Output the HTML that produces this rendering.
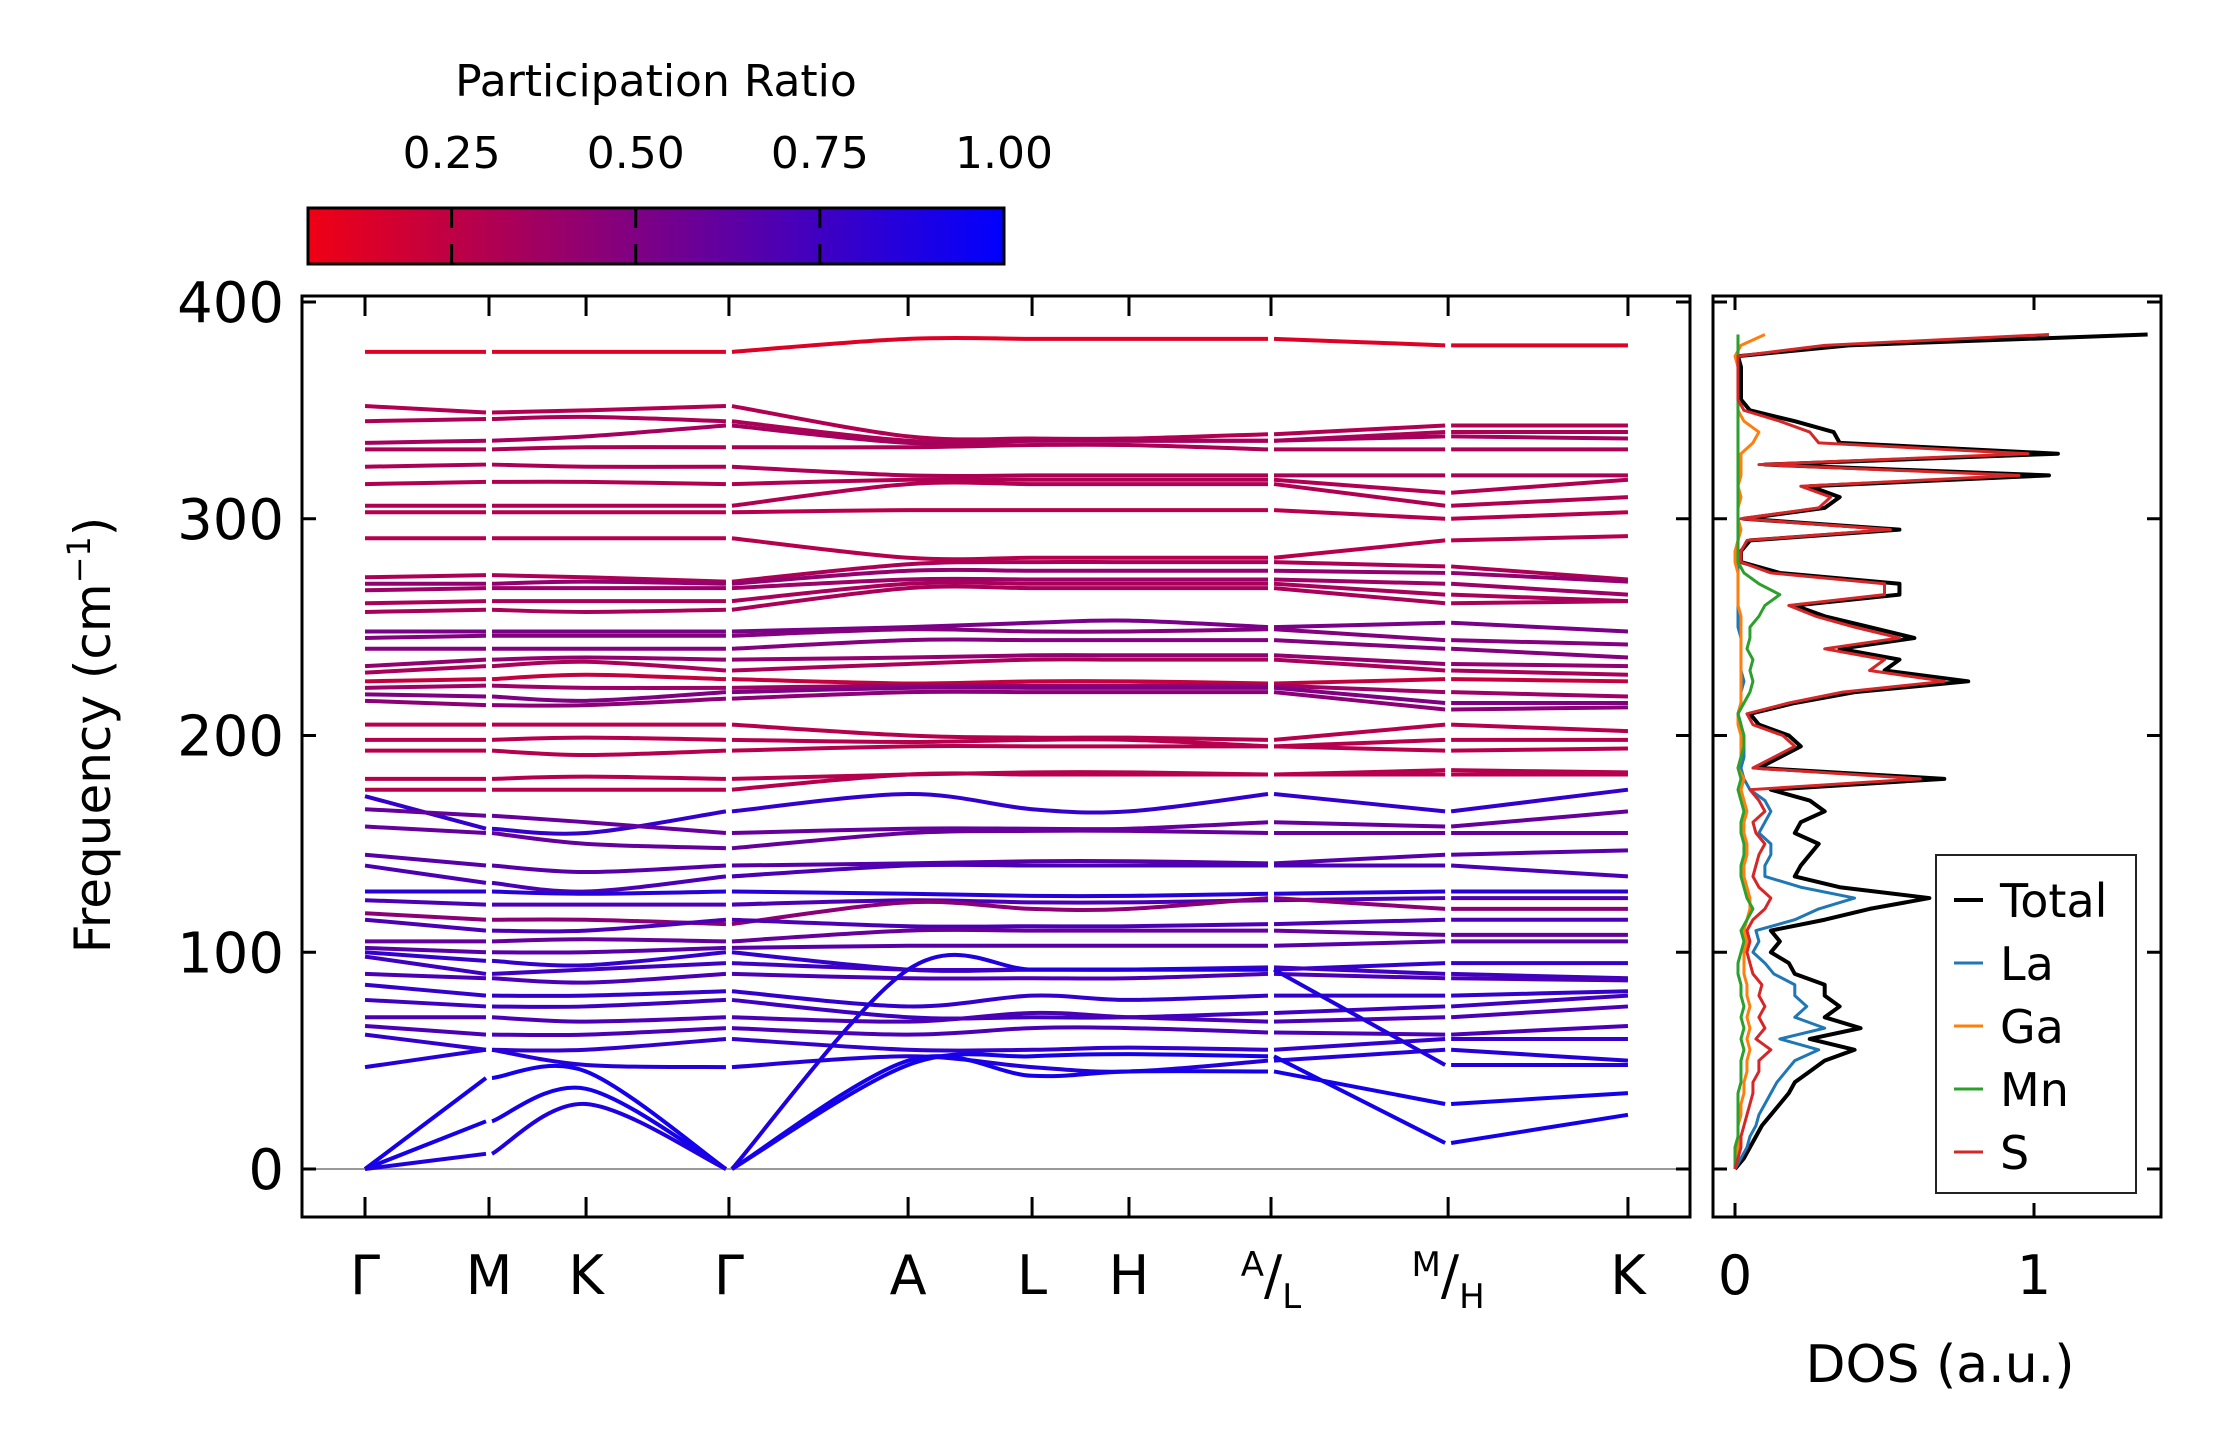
<!DOCTYPE html>
<html><head><meta charset="utf-8"><style>
html,body{margin:0;padding:0;background:#fff;}
svg{display:block;font-family:"DejaVu Sans","Liberation Sans",sans-serif;}
</style></head><body>
<svg id="fig" width="2222" height="1455" viewBox="0 0 2222 1455" xmlns="http://www.w3.org/2000/svg">
<defs><linearGradient id="cmap" x1="0" x2="1" y1="0" y2="0"><stop offset="0" stop-color="rgb(240,0,20)"/><stop offset="1" stop-color="rgb(0,0,255)"/></linearGradient></defs>
<g>
<text x="656" y="96" font-size="44" text-anchor="middle">Participation Ratio</text>
<rect x="308" y="208" width="696" height="56" fill="url(#cmap)" stroke="#000" stroke-width="3"/>
<g id="cbticks"></g>
</g>
<g id="bands"></g>
<g id="dos"></g>
</svg>
<script>
const NS="http://www.w3.org/2000/svg";
const kLabels=["Γ","M","K","Γ","A","L","H","A/L","M/H","K"];
const kPath=[0,0.728,1.298,2.137,3.189,3.917,4.486,5.32,6.36,7.416];
const yTicks=[0,100,200,300,400];
const cbTicks=[0.25,0.5,0.75,1.0];
const bands=[
[377,377,377,377,383,383,383,383,380,380],
[352,349,350,352,338,337,337,339,343,343],
[345,346,347,345,336,336,336,336,340,340],
[335,336,338,343,335,336,336,336,338,337],
[332,332,333,333,333,334,334,332,332,332],
[324,325,324,324,320,320,320,320,320,320],
[316,317,317,316,318,318,318,318,312,318],
[306,306,306,306,316,316,316,316,306,310],
[303,303,303,303,304,304,304,304,300,303],
[291,291,291,291,282,282,282,282,290,292],
[273,274,273,271,279,280,280,280,278,272],
[270,270,271,270,276,276,276,276,275,271],
[267,268,268,268,272,272,272,272,270,265],
[261,262,262,262,270,270,270,270,265,262],
[257,258,257,258,268,268,268,268,261,262],
[248,248,248,248,250,252,253,250,252,248],
[245,246,246,246,249,248,248,249,244,242],
[240,240,240,240,244,244,244,244,240,236],
[232,235,236,235,236,237,237,237,233,232],
[229,232,234,230,233,235,235,235,230,228],
[225,226,228,226,224,225,225,224,226,225],
[222,223,222,222,223,223,223,223,220,218],
[219,218,216,220,222,222,222,222,215,215],
[216,214,214,217,220,220,220,220,212,213],
[205,205,205,205,200,199,199,198,205,202],
[198,198,199,198,197,198,198,195,198,198],
[193,193,191,193,195,195,195,195,193,194],
[180,180,181,180,182,183,183,182,184,183],
[175,175,175,175,182,182,182,182,182,182],
[172,157,155,165,173,166,165,173,165,175],
[166,163,160,155,157,157,157,160,158,165],
[158,155,150,148,155,156,156,155,155,155],
[145,140,137,140,141,142,142,141,145,147],
[140,132,128,135,140,140,140,140,140,135],
[128,128,127,128,127,126,126,127,128,128],
[124,122,122,122,124,123,123,124,125,125],
[118,115,115,113,123,120,120,125,120,120],
[115,110,110,115,112,112,112,113,115,115],
[105,105,106,105,110,110,110,110,108,108],
[102,100,100,102,103,103,103,103,105,105],
[100,96,94,100,92,92,92,92,95,95],
[98,90,92,95,92,92,92,93,90,88],
[90,88,86,90,88,88,88,90,88,87],
[85,80,80,82,75,80,78,80,80,82],
[78,75,75,78,70,70,70,72,75,80],
[70,70,68,70,68,72,70,68,70,75],
[66,62,62,65,62,65,65,63,62,66],
[62,55,55,60,55,55,56,55,60,60],
[47,55,48,47,52,47,45,50,55,50],
[0,42,45,0,50,43,45,45,30,35],
[0,22,37,0,48,52,53,52,12,25],
[0,7,30,0,92,92,92,92,48,48]
];
const bandPR=[0.12,0.3,0.32,0.35,0.32,0.32,0.3,0.3,0.28,0.28,0.32,0.42,0.38,0.33,0.33,0.52,0.48,0.48,0.42,0.33,0.22,0.38,0.5,0.45,0.28,0.28,0.28,0.28,0.28,0.8,0.6,0.6,0.65,0.7,0.85,0.7,0.45,0.7,0.6,0.65,0.8,0.75,0.7,0.8,0.75,0.7,0.7,0.8,0.85,0.92,0.92,0.88];
const segments=[[0,1],[1,2,3],[3,4,5,6,7],[7,8],[8,9]];
const dosFreqStep=5;
const dosTotal=[0,.03,.05,.07,.09,.12,.15,.18,.2,.25,.3,.4,.25,.42,.3,.35,.3,.3,.2,.18,.12,.15,.12,.3,.45,.65,.35,.2,.22,.25,.28,.2,.22,.3,.25,.12,.7,.08,.15,.22,.18,.08,.05,.2,.4,.78,.5,.55,.35,.6,.45,.3,.2,.55,.55,.15,.02,.02,.05,.55,.03,.3,.35,.25,1.05,.1,1.08,.35,.33,.2,.05,.02,.02,.02,.02,.01,.38,1.38];
const dosLa=[0,.02,.04,.05,.07,.08,.1,.12,.14,.17,.2,.28,.15,.3,.2,.24,.2,.2,.13,.1,.06,.08,.07,.2,.28,.4,.22,.1,.1,.12,.12,.08,.1,.12,.1,.05,.03,.02,.03,.03,.02,.02,.01,.02,.02,.03,.02,.02,.02,.02,.01,.01,.01,.01,.01,.01,.01,.01,.01,.01,.01,.01,.01,.01,.01,.01,.01,.01,.01,.01,.01,.01,.01,.01,.01,.01,.01,.01];
const dosGa=[0,0,.01,.01,.01,.02,.02,.03,.03,.04,.04,.05,.04,.05,.04,.05,.04,.04,.03,.03,.03,.04,.03,.04,.05,.05,.04,.03,.03,.04,.04,.03,.03,.04,.03,.02,.03,.01,.02,.02,.02,.01,.01,.02,.02,.02,.02,.02,.02,.02,.02,.02,.01,.01,.01,.01,0,0,.01,.02,.01,.01,.02,.01,.02,.02,.02,.06,.08,.03,.01,.01,.01,.01,.01,0,.02,.1];
const dosMn=[0,0,0,.01,.01,.01,.01,.01,.02,.02,.02,.03,.02,.03,.02,.03,.02,.02,.01,.01,.02,.03,.02,.04,.06,.04,.03,.02,.02,.03,.03,.02,.02,.03,.02,.01,.02,.01,.02,.03,.03,.02,.01,.03,.05,.06,.05,.06,.04,.05,.05,.08,.1,.15,.08,.03,.01,.01,.01,.01,.01,.01,.01,.01,.01,.01,.01,.01,.01,.01,.01,.01,.01,.01,.01,.01,.01,.01];
const dosS=[0,.01,.02,.02,.03,.04,.05,.06,.06,.08,.08,.12,.07,.1,.08,.1,.08,.09,.06,.05,.04,.05,.04,.06,.1,.12,.08,.06,.07,.08,.1,.07,.06,.1,.08,.05,.62,.06,.13,.2,.16,.06,.04,.18,.36,.7,.45,.5,.3,.55,.4,.27,.18,.5,.5,.12,.02,.02,.04,.52,.02,.28,.32,.22,.95,.08,.98,.28,.25,.15,.03,.01,.01,.01,.01,.01,.3,1.05];
const dosNames=["Total","La","Ga","Mn","S"];
const dosColors=["#000000","#1f77b4","#ff7f0e","#2ca02c","#d62728"];
const dosTicks=[0,1];

const AX={l:302,r:1690,t:296,b:1217};
const DX={l:1713,r:2161};
const y=f=>1169-f*2.1675;
const x=k=>AX.l+(k+0.37)*170.3;
const xd=v=>1735+v*299;
const prColor=p=>{const t=Math.max(0,Math.min(1,(p-0.05)/0.95));return `rgb(${Math.round(240*(1-t))},0,${Math.round(20+235*t)})`;};

function el(tag,attrs,parent){const e=document.createElementNS(NS,tag);for(const a in attrs)e.setAttribute(a,attrs[a]);parent.appendChild(e);return e;}

const cb=document.getElementById('cbticks');
cbTicks.forEach(v=>{
  const px=308+(v-0.055)/0.945*696;
  const l1=el('line',{x1:px,x2:px,y1:208,y2:228,stroke:'#000','stroke-width':3},cb);
  
  
  const l2=el('line',{x1:px,x2:px,y1:244,y2:264,stroke:'#000','stroke-width':3},cb);
  
  
  const t=el('text',{x:px,y:168,'font-size':44,'text-anchor':'middle'},cb);
  t.textContent=v.toFixed(2);
  
  
});

const g=document.getElementById('bands');
const zl=el('line',{x1:AX.l,x2:AX.r,y1:y(0),y2:y(0),stroke:'#999','stroke-width':2},g);


function crPath(pts){
  let d=`M${pts[0][0]},${pts[0][1]}`;
  for(let i=0;i<pts.length-1;i++){
    const p0=pts[i-1]||pts[i],p1=pts[i],p2=pts[i+1],p3=pts[i+2]||pts[i+1];
    const c1=[p1[0]+(p2[0]-p0[0])/6,p1[1]+(p2[1]-p0[1])/6];
    const c2=[p2[0]-(p3[0]-p1[0])/6,p2[1]-(p3[1]-p1[1])/6];
    d+=` C${c1[0]},${c1[1]} ${c2[0]},${c2[1]} ${p2[0]},${p2[1]}`;
  }
  return d;
}
bands.forEach((b,bi)=>{
  segments.forEach(seg=>{
    const pts=seg.map((k,j)=>{let px=x(kPath[k]);if(j===0&&k!==0)px+=3;if(j===seg.length-1&&k!==9)px-=3;return [px,y(b[k])];});
    const p=el('path',{d:crPath(pts),fill:'none',stroke:prColor(bandPR[bi]),'stroke-width':4},g);
    
    
  });
});
const ax=el('rect',{x:AX.l,y:AX.t,width:AX.r-AX.l,height:AX.b-AX.t,fill:'none',stroke:'#000','stroke-width':3},g);


yTicks.forEach(v=>{
  [[AX.l,AX.l+14],[AX.r,AX.r-14]].forEach(([a,b2])=>{
    const l=el('line',{x1:a,x2:b2,y1:y(v),y2:y(v),stroke:'#000','stroke-width':3},g);
    
    
  });
  const t=el('text',{x:AX.l-18,y:y(v)+20,'font-size':56,'text-anchor':'end'},g);
  t.textContent=v;
  
  
});
kPath.forEach((k,i)=>{
  const px=x(k);
  [[AX.t,AX.t+20],[AX.b,AX.b-20]].forEach(([a,b2])=>{
    const l=el('line',{x1:px,x2:px,y1:a,y2:b2,stroke:'#000','stroke-width':3},g);
    
    
  });
  const lab=kLabels[i];
  const t=el('text',{x:px,y:1294,'font-size':54,'text-anchor':'middle'},g);
  
  
  if(lab.includes('/')){
    const [a,b2]=lab.split('/');
    const s1=el('tspan',{'font-size':34,dy:-18},t);s1.textContent=a;
    const s2=el('tspan',{'font-size':54,dy:18},t);s2.textContent='/';
    const s3=el('tspan',{'font-size':34,dy:14},t);s3.textContent=b2;
  } else t.textContent=lab;
});
const yt=el('text',{transform:'translate(110,735) rotate(-90)','font-size':50,'text-anchor':'middle'},g);


yt.textContent='Frequency (cm';
const sup=el('tspan',{'font-size':32,dy:-20},yt);sup.textContent='−1';
const cl=el('tspan',{dy:20},yt);cl.textContent=')';

const d=document.getElementById('dos');
const series=[dosTotal,dosLa,dosGa,dosMn,dosS];
series.forEach((arr,si)=>{
  const pts=arr.map((v,i)=>`${xd(v)},${y(i*dosFreqStep)}`).join(' ');
  const pl=el('polyline',{points:pts,fill:'none',stroke:dosColors[si],'stroke-width':si===0?4:3,'stroke-linejoin':'round'},d);
  
  
});
const dax=el('rect',{x:DX.l,y:AX.t,width:DX.r-DX.l,height:AX.b-AX.t,fill:'none',stroke:'#000','stroke-width':3},d);


yTicks.forEach(v=>{
  [[DX.l,DX.l+14],[DX.r,DX.r-14]].forEach(([a,b2])=>{
    const l=el('line',{x1:a,x2:b2,y1:y(v),y2:y(v),stroke:'#000','stroke-width':3},d);
    
    
  });
});
dosTicks.forEach(v=>{
  [[AX.t,AX.t+14],[AX.b,AX.b-14]].forEach(([a,b2])=>{
    const l=el('line',{x1:xd(v),x2:xd(v),y1:a,y2:b2,stroke:'#000','stroke-width':3},d);
    
    
  });
  const t=el('text',{x:xd(v),y:1294,'font-size':54,'text-anchor':'middle'},d);
  t.textContent=v;
  
  
});
const dt=el('text',{x:1940,y:1382,'font-size':52,'text-anchor':'middle'},d);
dt.textContent='DOS (a.u.)';


const lg=el('g',{},d);


el('rect',{x:1936,y:855,width:200,height:338,fill:'#fff',stroke:'#222','stroke-width':2},lg);
dosNames.forEach((n,i)=>{
  const yy=900+i*63;
  const l=el('line',{x1:1954,x2:1983,y1:yy,y2:yy,stroke:dosColors[i],'stroke-width':i===0?4:3},lg);
  
  
  const t=el('text',{x:2000,y:yy+17,'font-size':46},lg);
  t.textContent=n;
  
  
});
</script>
</body></html>
